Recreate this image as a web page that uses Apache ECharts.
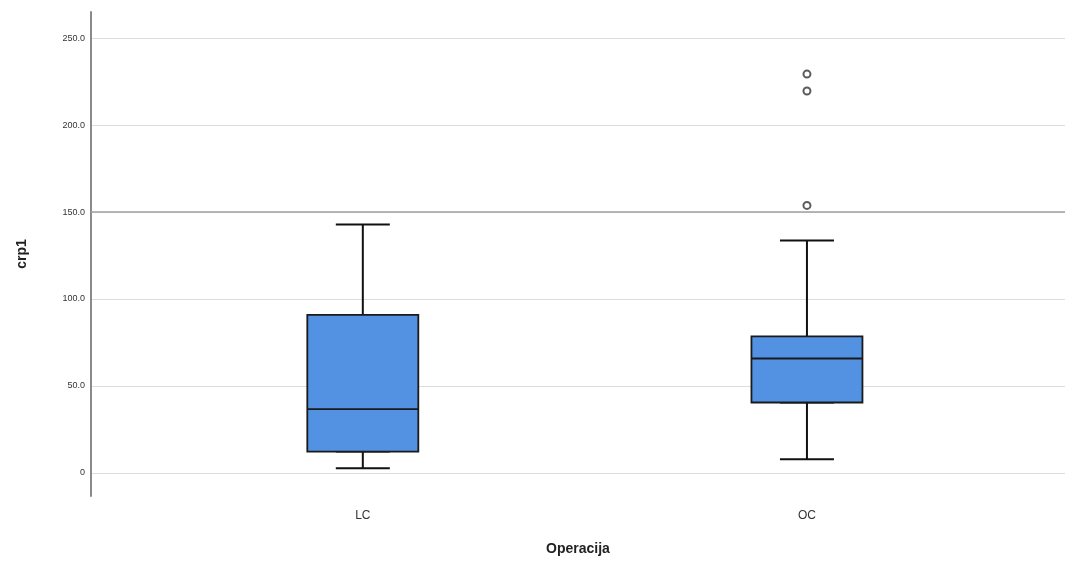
<!DOCTYPE html>
<html>
<head>
<meta charset="utf-8">
<script src="https://cdn.jsdelivr.net/npm/echarts@6/dist/echarts.min.js"></script>
<style>html,body{margin:0;padding:0;background:#fff;}#c{width:1065px;height:562px;}</style>
</head>
<body>
<div id="c"></div>
<script>
const categories = ['LC', 'OC'];
const lowerWhisker = [2.7, 7.9];
const q1 = [12.3, 40.5];
const median = [36.7, 65.8];
const q3 = [90.9, 78.5];
const upperWhisker = [142.9, 133.6];
const outliers = [[1, 229.3], [1, 219.6], [1, 153.8]];
const yTicks = [0, 50, 100, 150, 200, 250];
const yTickLabels = ['0', '50.0', '100.0', '150.0', '200.0', '250.0'];

const whiskerData = categories.map((c, i) => [i, lowerWhisker[i], q1[i], q1[i], q1[i], upperWhisker[i]]);
const boxData = categories.map((c, i) => [i, q1[i], q1[i], median[i], q3[i], q3[i]]);

const xMin = -0.612, xMax = 1.581;
const chart = echarts.init(document.getElementById('c'));
const baseX = {
  type: 'value', min: xMin, max: xMax,
  axisLine: {show: false}, axisTick: {show: false}, splitLine: {show: false}
};
chart.setOption({
  animation: false,
  backgroundColor: '#fff',
  grid: {left: 91, right: 0, top: 12, bottom: 66, containLabel: false},
  xAxis: [
    Object.assign({}, baseX, {
      name: 'Operacija', nameLocation: 'middle', nameGap: 46,
      nameTextStyle: {fontFamily: 'Liberation Sans', fontSize: 14, fontWeight: 'bold', color: '#222'},
      axisLabel: {customValues: [0, 1], formatter: v => categories[Math.round(v)] || '', fontFamily: 'Liberation Sans', fontSize: 12, color: '#333', margin: 14}
    }),
    Object.assign({}, baseX, {show: false})
  ],
  yAxis: {
    type: 'value', min: -13.25, max: 265,
    name: 'crp1', nameLocation: 'middle', nameGap: 62, nameRotate: 90,
    nameTextStyle: {fontFamily: 'Liberation Sans', fontSize: 14, fontWeight: 'bold', color: '#222'},
    axisLine: {show: true, onZero: false, lineStyle: {color: '#8a8a8a', width: 2}},
    axisTick: {show: false, customValues: yTicks},
    axisLabel: {customValues: yTicks, formatter: v => yTickLabels[yTicks.indexOf(v)] || '', fontFamily: 'Liberation Sans', fontSize: 9, color: '#333', margin: 6},
    splitLine: {show: true, lineStyle: {color: '#dddddd', width: 1}}
  },
  series: [
    {
      type: 'boxplot', xAxisIndex: 0, data: whiskerData, boxWidth: [54, 54], layout: 'horizontal',
      itemStyle: {color: '#5392e3', borderColor: '#111', borderWidth: 2},
      z: 2
    },
    {
      type: 'boxplot', xAxisIndex: 1, data: boxData, boxWidth: [111, 111], layout: 'horizontal',
      itemStyle: {color: '#5392e3', borderColor: '#1a1a1a', borderWidth: 1.8},
      z: 3,
      markLine: {
        silent: true, symbol: 'none', label: {show: false},
        lineStyle: {color: '#a0a0a0', width: 1.5, type: 'solid'},
        data: [{yAxis: 150}]
      }
    },
    {
      type: 'scatter', xAxisIndex: 0, data: outliers,
      symbol: 'emptyCircle', symbolSize: 7,
      itemStyle: {color: '#333', borderColor: '#333', borderWidth: 1.2},
      z: 4
    }
  ]
});
</script>
</body>
</html>
